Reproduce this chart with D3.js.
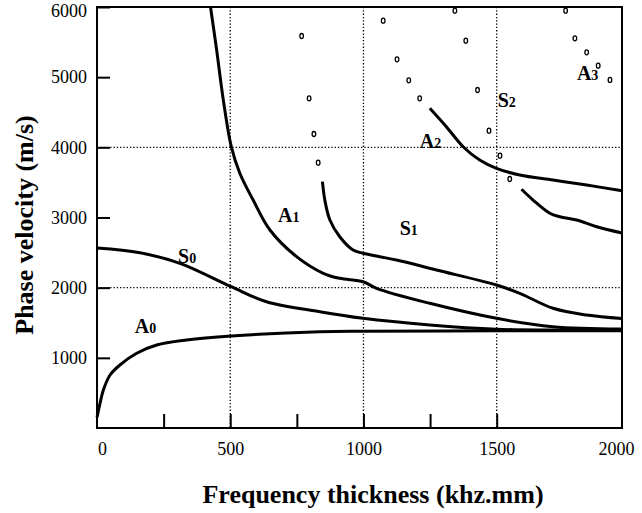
<!DOCTYPE html>
<html>
<head>
<meta charset="utf-8">
<script src="https://cdn.jsdelivr.net/npm/d3@7"></script>
<style>
  body { margin: 0; background: #fff; }
  text { font-family: "Liberation Serif", "Times New Roman", serif; fill: #000; }
</style>
</head>
<body>
<div id="chart"></div>
<script>
var svgWidth = 642;
var svgHeight = 513;

// plot frame edges in px
var frame = { left: 97, right: 622, top: 7, bottom: 428 };

// dispersion curves: [frequency thickness, phase velocity]
var a0 = [[0, 150], [10, 330], [24, 542], [49, 755], [86, 898], [149, 1065], [224, 1183],
  [336, 1254], [504, 1311], [836, 1372], [1000, 1380], [1500, 1385], [2000, 1385]];
var s0 = [[0, 2565], [161, 2498], [311, 2347], [504, 2014], [636, 1800], [836, 1657],
  [998, 1563], [1249, 1468], [1499, 1407], [1725, 1395], [2000, 1392]];
var a1 = [[426, 6000], [449, 5387], [474, 4675], [504, 4009], [536, 3630], [586, 3249],
  [649, 2822], [749, 2442], [849, 2205], [911, 2133], [999, 2085], [1049, 1991],
  [1249, 1777], [1499, 1563], [1724, 1444], [2000, 1410]];
var s1 = [[846, 3510], [855, 3249], [874, 2964], [911, 2726], [961, 2537], [999, 2490],
  [1061, 2441], [1124, 2394], [1274, 2252], [1499, 2038], [1592, 1920], [1725, 1706],
  [1859, 1610], [2000, 1560]];
var a2 = [[1249, 4557], [1311, 4294], [1374, 4009], [1436, 3819], [1499, 3701],
  [1592, 3606], [1725, 3534], [1859, 3463], [2000, 3380]];
var s2 = [[1599, 3402], [1645, 3249], [1712, 3060], [1752, 3011], [1819, 2964],
  [1899, 2869], [2000, 2780]];

// scattered open markers
var markers = [[768, 5587], [796, 4699], [814, 4190], [830, 3781],
  [1074, 5805], [1126, 5254], [1170, 4955], [1211, 4699],
  [1343, 5947], [1384, 5520], [1428, 4817], [1471, 4237], [1513, 3881], [1552, 3549],
  [1775, 5947], [1812, 5553], [1859, 5354], [1905, 5164], [1952, 4960]];

// mode labels: letter, index, position
var modeLabels = [
  { mode: "A", idx: "0", x: 142, v: 1354 },
  { mode: "S", idx: "0", x: 304, v: 2352 },
  { mode: "A", idx: "1", x: 679, v: 2936 },
  { mode: "S", idx: "1", x: 1136, v: 2751 },
  { mode: "A", idx: "2", x: 1211, v: 3990 },
  { mode: "S", idx: "2", x: 1504, v: 4575 },
  { mode: "A", idx: "3", x: 1820, v: 4960 }
];

var xLabelTicks = [0, 500, 1000, 1500, 2000];
var xMinorTicks = [250, 500, 750, 1000, 1250, 1500];
var yTicks = [1000, 2000, 3000, 4000, 5000, 6000];
var xGrid = [500, 1000, 1500];
var yGrid = [2000, 4000];

var svg = d3.select("#chart")
  .append("svg")
  .attr("width", svgWidth)
  .attr("height", svgHeight);

svg.append("rect")
  .attr("width", svgWidth)
  .attr("height", svgHeight)
  .attr("fill", "#fff");

// the original x axis is a bit squeezed past 1500
var xScale = d3.scaleLinear()
  .domain([0, 1500, 2000])
  .range([frame.left, 496.7, frame.right]);

var yScale = d3.scaleLinear()
  .domain([0, 6000])
  .range([frame.bottom, frame.top]);

// dotted grid
svg.append("g").selectAll("line")
  .data(xGrid)
  .enter()
  .append("line")
  .attr("x1", d => xScale(d))
  .attr("x2", d => xScale(d))
  .attr("y1", frame.top)
  .attr("y2", frame.bottom)
  .attr("stroke", "#000")
  .attr("stroke-width", 1.3)
  .attr("stroke-dasharray", "1.3,2");

svg.append("g").selectAll("line")
  .data(yGrid)
  .enter()
  .append("line")
  .attr("x1", frame.left)
  .attr("x2", frame.right)
  .attr("y1", d => yScale(d))
  .attr("y2", d => yScale(d))
  .attr("stroke", "#000")
  .attr("stroke-width", 1.3)
  .attr("stroke-dasharray", "1.3,2");

// axes
var leftAxis = d3.axisLeft(yScale)
  .tickValues(yTicks)
  .tickFormat(d3.format("d"))
  .tickSize(-13)
  .tickPadding(10);

var yAxis = svg.append("g")
  .attr("transform", `translate(${frame.left}, 0)`)
  .call(leftAxis)
  .attr("font-family", "Liberation Serif")
  .attr("font-size", 18);
yAxis.select(".domain").remove();
yAxis.selectAll("line").attr("stroke-width", 2);
// top label sits a little lower in the original, inside the picture
yAxis.selectAll("text")
  .filter(d => d === 6000)
  .attr("dy", "0.55em");

var minorAxis = d3.axisBottom(xScale)
  .tickValues(xMinorTicks)
  .tickSize(-14)
  .tickFormat("");

var xMinor = svg.append("g")
  .attr("transform", `translate(0, ${frame.bottom})`)
  .call(minorAxis);
xMinor.select(".domain").remove();
xMinor.selectAll("line").attr("stroke-width", 2);

var bottomAxis = d3.axisBottom(xScale)
  .tickValues(xLabelTicks)
  .tickFormat(d3.format("d"))
  .tickSize(0)
  .tickPadding(14);

var xAxis = svg.append("g")
  .attr("transform", `translate(0, ${frame.bottom})`)
  .call(bottomAxis)
  .attr("font-family", "Liberation Serif")
  .attr("font-size", 18);
xAxis.select(".domain").remove();
xAxis.selectAll("text")
  .attr("dx", d => d === 0 ? 5 : (d === 2000 ? -6 : 0));

// frame
svg.append("rect")
  .attr("x", frame.left)
  .attr("y", frame.top)
  .attr("width", frame.right - frame.left)
  .attr("height", frame.bottom - frame.top)
  .attr("fill", "none")
  .attr("stroke", "#000")
  .attr("stroke-width", 2);

// curves
var line = d3.line()
  .x(d => xScale(d[0]))
  .y(d => yScale(d[1]))
  .curve(d3.curveCatmullRom.alpha(0.5));

svg.append("g").selectAll("path")
  .data([a0, s0, a1, s1, a2, s2])
  .enter()
  .append("path")
  .attr("d", line)
  .attr("fill", "none")
  .attr("stroke", "#000")
  .attr("stroke-width", 3)
  .attr("stroke-linecap", "butt");

// markers
svg.append("g").selectAll("ellipse")
  .data(markers)
  .enter()
  .append("ellipse")
  .attr("cx", d => xScale(d[0]))
  .attr("cy", d => yScale(d[1]))
  .attr("rx", 1.8)
  .attr("ry", 2.5)
  .attr("fill", "#fff")
  .attr("stroke", "#000")
  .attr("stroke-width", 1.3);

// mode labels
var labels = svg.append("g").selectAll("text")
  .data(modeLabels)
  .enter()
  .append("text")
  .attr("x", d => xScale(d.x))
  .attr("y", d => yScale(d.v))
  .style("font-weight", "bold");

labels.append("tspan")
  .style("font-size", "20px")
  .text(d => d.mode);

labels.append("tspan")
  .style("font-size", "14px")
  .text(d => d.idx);

// axis titles
svg.append("text")
  .attr("transform", "translate(33, 225) rotate(-90)")
  .attr("text-anchor", "middle")
  .style("font-size", "26px")
  .style("font-weight", "bold")
  .text("Phase velocity (m/s)");

svg.append("text")
  .attr("x", 373)
  .attr("y", 503)
  .attr("text-anchor", "middle")
  .style("font-size", "26px")
  .style("font-weight", "bold")
  .text("Frequency thickness (khz.mm)");
</script>
</body>
</html>
